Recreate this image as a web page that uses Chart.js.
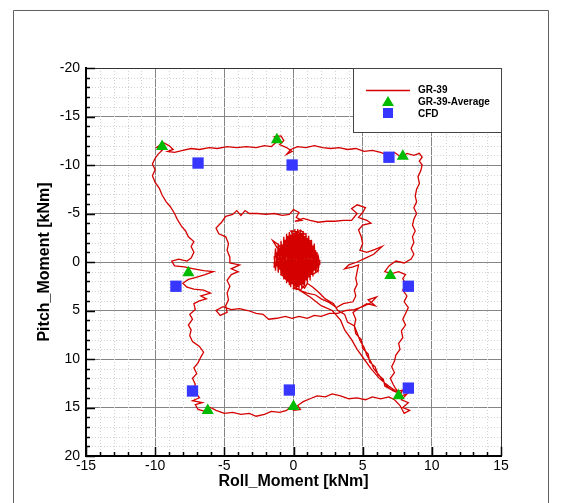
<!DOCTYPE html>
<html>
<head>
<meta charset="utf-8">
<script src="https://cdn.jsdelivr.net/npm/chart.js@4.4.0/dist/chart.umd.min.js"></script>
<style>
  html, body { margin: 0; padding: 0; background: #fff; }
</style>
</head>
<body>
<canvas id="moments" width="562" height="503"></canvas>
<script>
// axis ranges + ticks
const rollTicks = [-15, -10, -5, 0, 5, 10, 15];
const pitchTicks = [-20, -15, -10, -5, 0, 5, 10, 15, 20];

// GR-39-Average (green triangles)
const avgRoll  = [-9.5, -1.2, 7.9, -7.6, 7.0, -6.2, 0.0, 7.6];
const avgPitch = [-11.9, -12.6, -10.9, 1.1, 1.4, 15.3, 14.9, 13.8];

// CFD (blue squares)
const cfdRoll  = [-6.9, -0.1, 6.9, -8.5, 8.3, -7.3, -0.3, 8.3];
const cfdPitch = [-10.2, -10.0, -10.8, 2.5, 2.5, 13.3, 13.2, 13.0];

// GR-39 trace [roll, pitch]
// dense blob around the origin: two sweeps across it
const trackBlob = [
  [-1.4,-0.6],[-1.3,0.9],[-1.2,-1.0],[-1.1,1.1],[-1.0,-1.5],[-0.9,1.4],[-0.8,-1.8],[-0.7,1.8],[-0.6,-2.3],[-0.5,2.2],
  [-0.4,-2.7],[-0.3,2.4],[-0.2,-2.8],[-0.1,2.3],[0.0,-3.0],[0.1,2.5],[0.2,-3.2],[0.3,2.6],[0.4,-2.9],[0.5,2.4],
  [0.6,-3.0],[0.7,2.2],[0.8,-2.7],[0.9,1.9],[1.0,-2.5],[1.1,1.6],[1.2,-2.1],[1.3,1.3],[1.4,-1.7],[1.5,0.9],
  [1.6,-1.2],[1.7,0.5],[1.8,-0.5],[1.9,0.3],
  [1.9,-0.2],[1.8,0.7],[1.7,-1.0],[1.6,1.1],[1.5,-1.9],[1.4,1.5],[1.3,-2.3],[1.2,1.9],[1.1,-2.7],[1.0,2.2],
  [0.9,-3.0],[0.8,2.5],[0.7,-3.2],[0.6,2.7],[0.5,-3.3],[0.4,2.8],[0.3,-3.4],[0.2,2.9],[0.1,-3.4],[0.0,2.8],
  [-0.1,-3.3],[-0.2,2.6],[-0.3,-3.1],[-0.4,2.0],[-0.5,-2.9],[-0.6,1.5],[-0.7,-2.6],[-0.8,1.2],[-0.9,-2.2],[-1.0,0.8],
  [-1.1,-1.9],[-1.2,0.3],[-1.3,-1.4],[-1.4,0.5]
];
const trackCluster = [
  [0.2,-0.5],[0.6,-0.9],[0.3,-1.4],[0.8,-1.2],[1.1,-1.7],[0.7,-2.0],[0.9,-2.6],[0.4,-2.3],[0.1,-2.9],[0.5,-3.3],
  [0.8,-2.9],[0.2,-2.6],[-0.3,-2.8],[-0.1,-2.2],[-0.6,-2.0],[-0.2,-1.6],[-0.8,-1.3],[-1.1,-1.8],[-1.5,-2.2],[-1.2,-1.5],
  [-0.7,-0.9],[-1.3,-0.6],[-0.9,-0.2],[-1.4,0.1],[-0.8,0.4],[-0.4,0.0],[-0.1,0.5],[-0.6,0.9],[-0.2,1.3],[-0.7,1.6],
  [-0.3,2.1],[0.1,1.7],[0.4,2.3],[0.0,2.7],[0.5,2.9],[0.8,2.4],[0.5,1.9],[1.0,1.6],[0.7,1.1],[1.3,0.9],
  [1.6,0.5],[1.2,0.2],[1.7,-0.2],[1.3,-0.6],[1.5,-1.1],[1.0,-0.8],[0.6,-0.3],[0.9,0.2],[0.4,0.6],[0.1,0.1],
  [-0.3,-0.4],[0.0,-1.0],[-0.4,-1.3],[0.1,-1.8],[0.5,-1.6],[0.2,-1.1],[0.7,-0.6],[0.3,-0.1],[-0.2,0.3],[0.2,0.9],
  [-0.1,1.4],[0.4,1.2],[0.9,0.8],[0.5,0.3],[1.1,-0.1],[0.8,-0.5],[1.3,-1.3],[0.9,-1.5],[1.2,-2.2],[0.6,-2.5],
  [0.3,-1.9],[-0.3,-2.1],[-0.5,-1.6],[-1.0,-1.1],[-0.5,-0.6],[-1.1,-0.3],[-0.6,0.2],[-1.0,0.7],[-0.5,1.1],[-0.9,1.3],
  [-0.4,1.8],[0.2,2.2],[0.7,2.0],[1.1,1.2],[1.4,1.3],[1.8,0.9],[1.4,0.6],[0.9,0.4],[0.4,-0.2],[-0.2,-0.8],
  [0.3,-1.5],[0.0,-2.4],[0.6,-2.8],[0.3,-3.1],[-0.2,-3.2],[0.1,-2.5],[-0.4,-2.4],[-0.8,-1.7],[-0.3,-1.0],[-0.8,-0.5],
  [-0.3,0.5],[0.3,0.4],[0.0,1.0],[0.6,1.5],[0.3,2.0],[0.8,2.7],[1.0,2.2],[1.4,2.6],[1.8,3.1]
];
const trackDiagonal = [
  [2.3,3.8],[2.9,4.3],[3.2,5.0],[3.7,5.4],[3.9,6.2],[4.4,6.6],[4.5,7.4],[4.9,8.0],[5.0,8.9],[5.4,9.5],
  [5.5,10.3],[5.9,10.8],[6.1,11.6],[6.5,12.1],[6.6,12.8],[7.0,13.1],[7.4,13.4],[7.9,13.2],[7.6,13.9],[8.2,13.6],
  [7.8,14.2],[8.3,14.5],[7.9,15.0],[8.4,15.3],[8.0,15.6],[7.7,14.8],[7.3,14.2],[6.9,13.9]
];
const trackBottom = [
  [6.3,14.1],[5.7,13.9],[5.2,14.2],[4.6,14.0],[4.0,14.1],[3.4,13.8],[2.8,13.6],[2.3,13.9],[1.7,13.8],[1.2,14.1],
  [0.7,14.4],[0.3,14.8],[0.5,15.2],[0.0,15.3],[-0.2,14.9],[-0.5,15.3],[-1.0,15.5],[-1.6,15.4],[-2.1,15.7],[-2.7,15.9],
  [-3.2,15.6],[-3.8,15.7],[-4.4,15.5],[-5.0,15.6],[-5.6,15.3],[-6.0,15.0],[-6.4,15.4],[-6.9,15.2],[-7.1,14.7],[-6.6,14.5],
  [-7.3,14.3],[-6.8,14.0],[-7.0,13.6]
];
const trackLeft = [
  [-7.3,13.2],[-7.1,12.6],[-7.3,12.0],[-7.0,11.5],[-7.2,10.9],[-6.9,10.4],[-6.7,9.8],[-6.5,9.3],[-6.8,8.7],[-7.3,8.2],
  [-7.5,7.6],[-7.4,7.0],[-7.6,6.5],[-7.3,5.9],[-7.5,5.4],[-7.1,4.9],[-7.2,4.3],[-6.8,4.0],[-6.3,3.8],[-6.7,3.5],
  [-6.0,3.2],[-6.5,2.9],[-7.2,2.8],[-7.7,2.6],[-8.0,2.2],[-7.6,1.8],[-7.1,1.6],[-6.4,1.3],[-5.8,1.0],[-6.5,0.9],
  [-7.2,0.7],[-7.9,0.5],[-8.6,0.4],[-8.8,-0.1],[-8.3,-0.3],[-7.7,-0.1],[-7.4,-0.4],[-7.2,-1.0],[-7.4,-1.6],[-7.2,-2.1],
  [-7.6,-2.6],[-7.8,-3.2],[-8.1,-3.7],[-8.4,-4.4],[-8.6,-5.0],[-8.9,-5.7],[-9.2,-6.2],[-9.5,-6.9],[-9.7,-7.6],[-10.0,-8.2],
  [-10.2,-8.9],[-10.0,-9.5],[-10.2,-10.1],[-10.0,-10.7],[-9.8,-11.1],[-9.5,-11.5],[-9.9,-11.8],[-9.4,-12.3],[-9.0,-12.0],[-8.7,-11.6],
  [-9.1,-11.4],[-8.6,-11.3]
];
const trackTop = [
  [-8.0,-11.5],[-7.4,-11.7],[-6.8,-11.6],[-6.1,-11.8],[-5.5,-11.7],[-4.8,-11.9],[-4.1,-11.8],[-3.4,-11.9],[-2.7,-11.8],[-2.1,-12.0],
  [-1.6,-11.9],[-1.2,-12.4],[-1.4,-12.9],[-0.9,-13.0],[-0.7,-12.5],[-1.0,-12.1],[-0.5,-11.8],[-0.1,-11.4],[-0.5,-11.1],[-0.2,-11.6],
  [0.3,-11.9],[0.9,-11.8],[1.5,-12.0],[2.1,-11.8],[2.7,-11.7],[3.3,-11.8],[3.9,-11.6],[4.5,-11.7],[5.1,-11.4],[5.7,-11.5],
  [6.3,-11.3],[6.8,-11.0],[7.3,-11.3],[7.8,-10.8],[8.2,-11.2],[8.7,-11.0],[9.1,-11.2],[9.3,-10.8],[9.1,-10.4],[9.3,-10.0]
];
const trackRight = [
  [9.2,-9.4],[9.0,-8.8],[9.1,-8.1],[8.9,-7.5],[8.8,-6.8],[8.9,-6.2],[8.7,-5.6],[8.9,-5.0],[8.7,-4.4],[8.6,-3.8],
  [8.8,-3.2],[8.6,-2.6],[8.7,-2.0],[8.5,-1.4],[8.7,-0.8],[8.5,-0.3],[8.0,0.1],[7.4,-0.1],[6.9,0.4],[6.6,1.0],
  [7.1,1.2],[7.6,1.0],[8.1,1.3],[7.9,1.7],[8.1,2.3],[7.9,2.9],[8.2,3.5],[8.0,4.1],[8.3,4.7],[8.1,5.3],
  [7.9,5.9],[8.1,6.5],[7.8,7.1],[7.9,7.8],[7.6,8.4],[7.7,9.0],[7.4,9.6],[7.3,10.2],[7.1,10.8],[7.3,11.4],
  [7.0,12.0],[7.2,12.6],[7.4,13.1],[7.7,13.5]
];
const trackReturn = [
  [7.2,13.3],[6.8,12.9],[6.5,12.3],[6.2,11.7],[5.8,11.0],[5.6,10.3],[5.3,9.6],[5.1,8.8],[4.8,8.1],[4.6,7.3],
  [4.4,6.6],[4.5,5.9],[4.3,5.2],[4.7,4.8],[5.3,4.3],[5.9,4.5],[5.4,3.9],[6.0,3.6],[5.6,4.2],[5.0,4.6],[4.4,4.9]
];
const trackInnerBottom = [
  [3.8,5.0],[3.2,5.3],[2.6,5.3],[2.0,5.6],[1.5,5.5],[1.0,5.8],[0.4,5.6],[-0.1,5.8],[-0.6,5.6],[-1.2,5.8],
  [-1.8,5.9],[-2.2,5.4],[-2.7,5.3],[-3.3,5.0],[-3.9,4.8],[-4.5,4.9],[-5.1,4.6],[-5.6,5.0],[-5.3,5.5],[-4.8,5.2]
];
const trackInnerLeft = [
  [-4.9,4.5],[-4.7,3.9],[-4.8,3.2],[-4.6,2.5],[-4.8,1.9],[-4.5,1.3],[-4.0,1.0],[-4.5,0.7],[-3.9,0.3],[-4.6,0.1],
  [-4.6,-0.5],[-4.8,-1.2],[-4.7,-1.9],[-4.9,-2.6],[-5.4,-2.9],[-5.6,-3.5],[-5.2,-4.1],[-4.9,-4.7]
];
const trackInnerTop = [
  [-4.4,-4.9],[-4.1,-5.3],[-3.8,-4.8],[-3.5,-5.3],[-3.2,-5.0],[-2.6,-5.0],[-2.0,-4.9],[-1.4,-5.0],[-0.8,-4.8],[-0.3,-4.9],
  [0.0,-5.4],[0.4,-5.1],[0.2,-4.6],[0.6,-4.3],[0.1,-4.2],[0.7,-4.5],[1.2,-4.3],[1.8,-4.1],[2.4,-4.2],[3.0,-4.2],
  [3.6,-4.3],[4.2,-4.3],[4.6,-5.0],[4.2,-5.5],[4.6,-5.9],[5.2,-5.6],[5.0,-5.1],[4.7,-4.6],[5.3,-4.3],[5.6,-4.0],[5.0,-3.8]
];
const trackInnerRight = [
  [4.7,-3.3],[4.9,-2.6],[5.0,-1.9],[4.8,-1.2],[5.3,-1.0],[5.9,-1.3],[6.4,-1.6],[5.8,-0.8],[5.2,-0.4],[4.6,0.0],
  [4.0,0.3],[3.7,0.7],[4.3,0.5],[4.7,0.3],[4.6,1.0],[4.5,1.7],[4.6,2.3],[4.4,2.9],[4.5,3.5],[4.3,4.1]
];
const trackBack = [
  [3.6,4.3],[3.1,4.7],[2.6,4.2],[2.0,3.8],[1.6,3.4],[1.0,3.2],[0.6,3.0],[0.2,2.7],
  [1.2,3.6],[2.0,4.5],[2.8,5.0],[3.4,6.0],[3.7,7.0],[4.2,8.0],[4.6,9.0],[5.1,10.0],[5.6,11.0],[6.2,12.0],[6.9,12.8],[7.5,13.4]
];

const gr39Track = [].concat(trackBlob, trackCluster, trackDiagonal, trackBottom, trackLeft, trackTop, trackRight,
  trackReturn, trackInnerBottom, trackInnerLeft, trackInnerTop, trackInnerRight, trackBack)
  .map(p => ({ x: p[0], y: p[1] }));

const FONT = "'Liberation Sans', Arial, Helvetica, sans-serif";
const RED = '#d40000';
const GREEN = '#00bb00';
const BLUE = '#3636ff';

// extra bits tecplot draws that chart.js does not: minor grid, inward ticks, titles, legend box
const extrasPlugin = {
  id: 'extras',
  beforeDraw(chart) {
    const c = chart.ctx;
    c.save();
    c.fillStyle = '#fff';
    c.fillRect(0, 0, chart.width, chart.height);
    c.strokeStyle = '#606060';
    c.lineWidth = 1;
    c.beginPath();
    c.moveTo(13.5, chart.height); c.lineTo(13.5, 10.5); c.lineTo(548.5, 10.5); c.lineTo(548.5, chart.height);
    c.stroke();
    c.restore();
  },
  beforeDatasetsDraw(chart) {
    const { ctx: c, chartArea: a, scales } = chart;
    c.save();
    c.strokeStyle = '#d2d2d2';
    c.lineWidth = 1;
    c.setLineDash([1, 2]);
    for (let v = rollTicks[0]; v <= rollTicks[rollTicks.length - 1]; v++) {
      if (v % 5 === 0) continue;
      const px = Math.round(scales.x.getPixelForValue(v)) + 0.5;
      c.beginPath(); c.moveTo(px, a.top); c.lineTo(px, a.bottom); c.stroke();
    }
    for (let v = pitchTicks[0]; v <= pitchTicks[pitchTicks.length - 1]; v++) {
      if (v % 5 === 0) continue;
      const py = Math.round(scales.y.getPixelForValue(v)) + 0.5;
      c.beginPath(); c.moveTo(a.left, py); c.lineTo(a.right, py); c.stroke();
    }
    c.restore();
  },
  afterDraw(chart) {
    const { ctx: c, chartArea: a, scales } = chart;
    c.save();
    // top / right frame
    c.strokeStyle = '#333';
    c.lineWidth = 1;
    c.beginPath();
    c.moveTo(a.left, a.top + 0.5); c.lineTo(a.right + 0.5, a.top + 0.5); c.lineTo(a.right + 0.5, a.bottom);
    c.stroke();
    // inward ticks on left and bottom axes
    c.strokeStyle = '#000';
    c.lineWidth = 1.5;
    for (let v = rollTicks[0]; v <= rollTicks[rollTicks.length - 1]; v++) {
      const len = v % 5 === 0 ? 9 : 4;
      const px = Math.round(scales.x.getPixelForValue(v)) + 0.5;
      c.beginPath(); c.moveTo(px, a.bottom); c.lineTo(px, a.bottom - len); c.stroke();
    }
    for (let v = pitchTicks[0]; v <= pitchTicks[pitchTicks.length - 1]; v++) {
      const len = v % 5 === 0 ? 9 : 4;
      const py = Math.round(scales.y.getPixelForValue(v)) + 0.5;
      c.beginPath(); c.moveTo(a.left, py); c.lineTo(a.left + len, py); c.stroke();
    }
    // axis titles
    c.fillStyle = '#000';
    c.font = 'bold 16px ' + FONT;
    c.textAlign = 'center';
    c.textBaseline = 'middle';
    c.fillText('Roll_Moment [kNm]', (a.left + a.right) / 2, 482);
    c.save();
    c.translate(45, (a.top + a.bottom) / 2);
    c.rotate(-Math.PI / 2);
    c.fillText('Pitch_Moment [kNm]', 0, 0);
    c.restore();
    // legend box
    const bx = 353, by = a.top, bw = a.right - 353, bh = 64;
    c.fillStyle = '#fff';
    c.fillRect(bx, by, bw, bh);
    c.strokeStyle = '#444';
    c.lineWidth = 1;
    c.strokeRect(bx + 0.5, by + 0.5, bw, bh);
    c.strokeStyle = RED;
    c.lineWidth = 1.3;
    c.beginPath(); c.moveTo(366, 90.5); c.lineTo(410, 90.5); c.stroke();
    c.fillStyle = GREEN;
    c.beginPath(); c.moveTo(388, 96); c.lineTo(394, 106); c.lineTo(382, 106); c.closePath(); c.fill();
    c.fillStyle = BLUE;
    c.fillRect(383, 108, 10, 10);
    c.fillStyle = '#000';
    c.font = 'bold 10px ' + FONT;
    c.textAlign = 'left';
    c.fillText('GR-39', 418, 90);
    c.fillText('GR-39-Average', 418, 102);
    c.fillText('CFD', 418, 114);
    c.restore();
  }
};

const ctx = document.getElementById('moments');

new Chart(ctx, {
  type: 'scatter',
  data: {
    datasets: [
      {
        label: 'GR-39',
        data: gr39Track,
        showLine: true,
        borderColor: RED,
        borderWidth: 1.3,
        pointRadius: 0,
        tension: 0,
        order: 3
      },
      {
        label: 'GR-39-Average',
        data: avgRoll.map((r, i) => ({ x: r, y: avgPitch[i] })),
        pointStyle: 'triangle',
        pointRadius: 7,
        backgroundColor: GREEN,
        borderColor: GREEN,
        borderWidth: 0,
        order: 2
      },
      {
        label: 'CFD',
        data: cfdRoll.map((r, i) => ({ x: r, y: cfdPitch[i] })),
        pointStyle: 'rect',
        pointRadius: 8,
        backgroundColor: BLUE,
        borderColor: BLUE,
        borderWidth: 0,
        order: 1
      }
    ]
  },
  options: {
    responsive: false,
    animation: false,
    events: [],
    layout: { padding: { top: 68, right: 61, left: 0, bottom: 0 } },
    plugins: {
      legend: { display: false },
      tooltip: { enabled: false }
    },
    scales: {
      x: {
        type: 'linear',
        min: rollTicks[0],
        max: rollTicks[rollTicks.length - 1],
        afterFit: s => { s.height = 47; },
        afterBuildTicks: s => { s.ticks = rollTicks.map(v => ({ value: v })); },
        ticks: { color: '#000', padding: 2, font: { family: FONT, size: 14 }, maxRotation: 0 },
        grid: { color: '#858585', lineWidth: 1, drawTicks: false },
        border: { color: '#000', width: 2 }
      },
      y: {
        type: 'linear',
        reverse: true,
        min: pitchTicks[0],
        max: pitchTicks[pitchTicks.length - 1],
        afterFit: s => { s.width = 86; },
        afterBuildTicks: s => { s.ticks = pitchTicks.map(v => ({ value: v })); },
        ticks: { color: '#000', padding: 6, font: { family: FONT, size: 14 } },
        grid: { color: '#858585', lineWidth: 1, drawTicks: false },
        border: { color: '#000', width: 2 }
      }
    }
  },
  plugins: [extrasPlugin]
});
</script>
</body>
</html>
